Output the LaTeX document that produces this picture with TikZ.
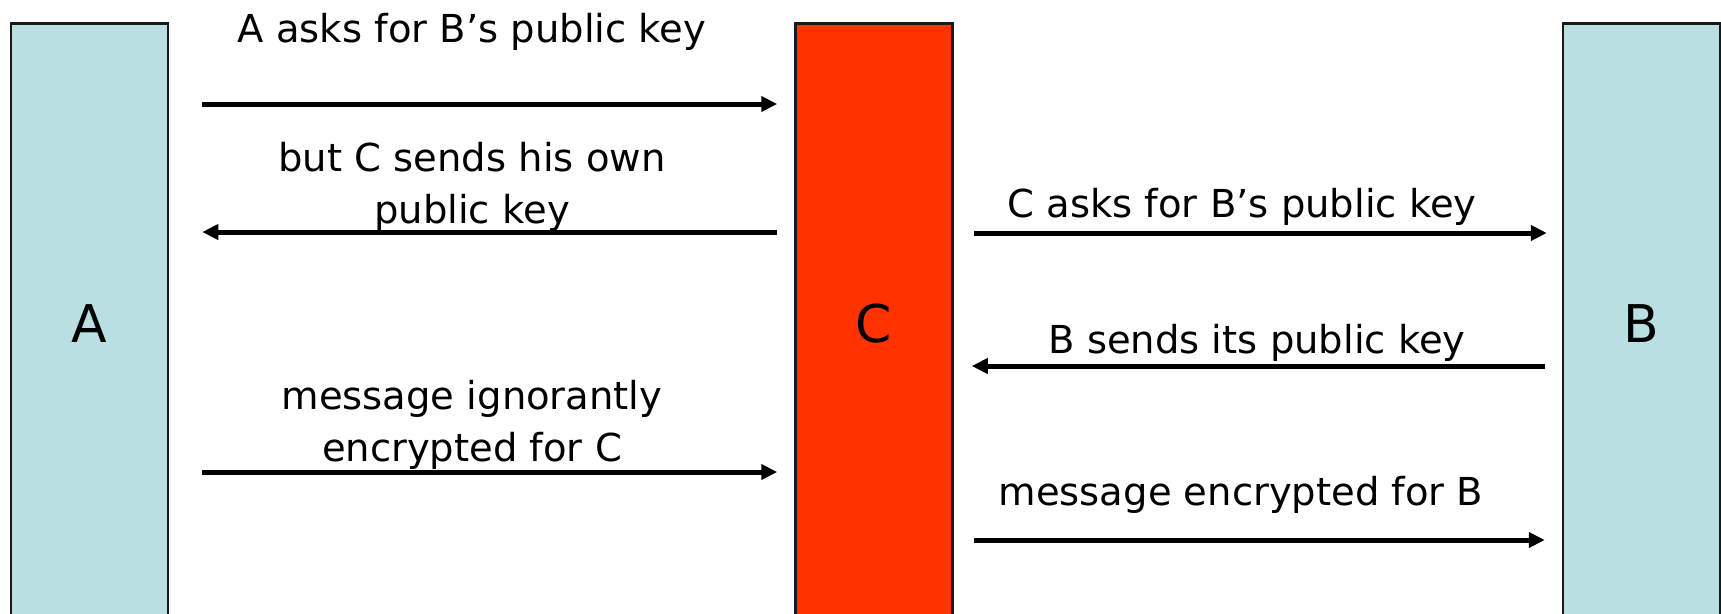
\documentclass[tikz,border=0pt]{standalone}
\usepackage{fontspec}
\setmainfont{DejaVu Sans}
\usetikzlibrary{arrows.meta}

\definecolor{partyblue}{HTML}{B9DFE2}
\definecolor{spyred}{HTML}{FF3300}

\tikzset{
  party/.style={draw=black!90, line width=2.5pt, minimum width=157pt,
    minimum height=600pt, inner sep=0pt, font=\fontsize{52}{60}\selectfont},
  msg/.style={line width=5pt, -{Triangle[length=16pt,width=15pt]}},
  say/.style={inner sep=0pt, anchor=base, align=center,
    font=\fontsize{38.5}{52}\selectfont}
}

\begin{document}
\begin{tikzpicture}[x=1pt,y=-1pt]
\useasboundingbox (0,0) rectangle (1721,613);
\clip (0,0) rectangle (1721,613);

\node[party, fill=partyblue] (A) at (89.5,323.5) {A};
\node[party, fill=spyred] (C) at (874,323.5) {C};
\node[party, fill=partyblue] (B) at (1641.5,323.5) {B};

\coordinate (r1) at (0,104);
\coordinate (r2) at (0,232);
\coordinate (r3) at (0,472);
\coordinate (r4) at (0,233);
\coordinate (r5) at (0,366);
\coordinate (r6) at (0,540);

% A <-> C
\draw[msg] ([xshift=33pt]A.east |- r1) -- ([xshift=-17pt]C.west |- r1);
\draw[msg] ([xshift=-17pt]C.west |- r2) -- ([xshift=33pt]A.east |- r2);
\draw[msg] ([xshift=33pt]A.east |- r3) -- ([xshift=-17pt]C.west |- r3);

% C <-> B
\draw[msg] ([xshift=20pt]C.east |- r4) -- ([xshift=-15pt]B.west |- r4);
\draw[msg] ([xshift=-17pt]B.west |- r5) -- ([xshift=18pt]C.east |- r5);
\draw[msg] ([xshift=20pt]C.east |- r6) -- ([xshift=-17pt]B.west |- r6);

\node[say] (t1) at (472,42) {A asks for B’s public key};
\node[say] (t2) at (472,223) {but C sends his own\\public key};
\node[say] (t3) at (472,461) {message ignorantly\\encrypted for C};
\node[say] (t4) at (1242,217) {C asks for B’s public key};
\node[say] (t5) at (1257,353) {B sends its public key};
\node[say] (t6) at (1241,505) {message encrypted for B};

\end{tikzpicture}
\end{document}
